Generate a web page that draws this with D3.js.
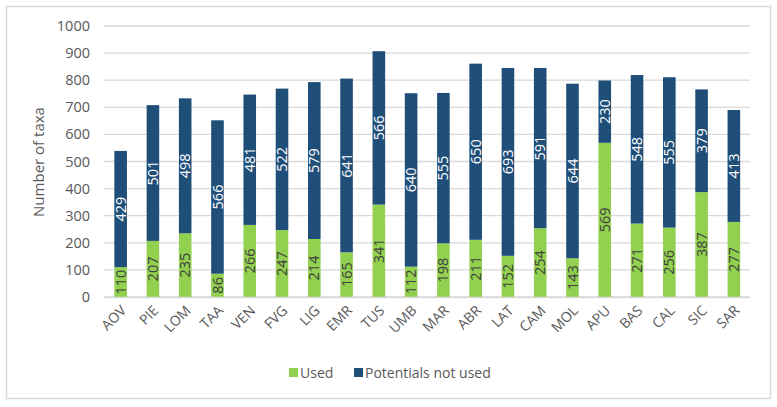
<!DOCTYPE html>
<html><head><meta charset="utf-8">
<script src="https://cdn.jsdelivr.net/npm/d3@7"></script>
<style>body{margin:0;background:#fff}svg{display:block}text{font-family:"Open Sans","Liberation Sans",sans-serif}</style>
</head><body>
<script>
const categories = ["AOV","PIE","LOM","TAA","VEN","FVG","LIG","EMR","TUS","UMB","MAR","ABR","LAT","CAM","MOL","APU","BAS","CAL","SIC","SAR"];
const used = [110,207,235,86,266,247,214,165,341,112,198,211,152,254,143,569,271,256,387,277];
const notUsed = [429,501,498,566,481,522,579,641,566,640,555,650,693,591,644,230,548,555,379,413];
const yTicks = [0,100,200,300,400,500,600,700,800,900,1000];
const seriesNames = ["Used","Potentials not used"];
const colors = ["#92D050","#1F4E79"];

const W = 777, H = 407;
const svg = d3.select("body").append("svg").attr("width", W).attr("height", H);
svg.append("rect").attr("x",6.5).attr("y",6.5).attr("width",764).attr("height",392)
  .attr("fill","#fff").attr("stroke","#d9d9d9").attr("stroke-width",1.5);

const x = d3.scaleBand().domain(categories).range([104.5, 750]).paddingInner(0.61).paddingOuter(0.305);
const y = d3.scaleLinear().domain([0,1000]).range([297, 26]);

// gridlines
svg.append("g").selectAll("line").data(yTicks).join("line")
  .attr("x1",104).attr("x2",750).attr("y1",d=>y(d)).attr("y2",d=>y(d))
  .attr("stroke","#d9d9d9").attr("stroke-width",1.3);

// y axis labels
svg.append("g").selectAll("text").data(yTicks).join("text")
  .attr("x",90).attr("y",d=>y(d)).attr("dy","0.35em").attr("text-anchor","end")
  .attr("font-size",14.5).attr("fill","#595959").text(d=>d);

svg.append("text").attr("transform","translate(44,162) rotate(-90)").attr("text-anchor","middle")
  .attr("font-size",15).attr("fill","#595959").text("Number of taxa");

const data = categories.map((c,i)=>({c, u:used[i], n:notUsed[i]}));
const g = svg.append("g");
g.selectAll("rect.u").data(data).join("rect").attr("class","u")
  .attr("x",d=>x(d.c)).attr("width",x.bandwidth())
  .attr("y",d=>y(d.u)).attr("height",d=>y(0)-y(d.u)).attr("fill",colors[0]);
g.selectAll("rect.n").data(data).join("rect").attr("class","n")
  .attr("x",d=>x(d.c)).attr("width",x.bandwidth())
  .attr("y",d=>y(d.u+d.n)).attr("height",d=>y(d.u)-y(d.u+d.n)).attr("fill",colors[1]);

g.selectAll("text.u").data(data).join("text").attr("class","u")
  .attr("transform",d=>`translate(${x(d.c)+x.bandwidth()/2},${(y(0)+y(d.u))/2}) rotate(-90)`)
  .attr("text-anchor","middle").attr("dy","0.35em").attr("font-size",14.5).attr("fill","#404040").text(d=>d.u);
g.selectAll("text.n").data(data).join("text").attr("class","n")
  .attr("transform",d=>`translate(${x(d.c)+x.bandwidth()/2},${(y(d.u)+y(d.u+d.n))/2}) rotate(-90)`)
  .attr("text-anchor","middle").attr("dy","0.35em").attr("font-size",14.5).attr("fill","#ffffff").text(d=>d.n);

svg.append("line").attr("x1",104).attr("x2",750).attr("y1",297.5).attr("y2",297.5).attr("stroke","#d9d9d9").attr("stroke-width",1.3);

svg.append("g").selectAll("text").data(categories).join("text")
  .attr("transform",d=>`translate(${x(d)+x.bandwidth()/2+3},${308}) rotate(-45)`)
  .attr("text-anchor","end").attr("dy","0.35em").attr("font-size",14).attr("fill","#595959").text(d=>d);

const leg = svg.append("g");
const legX = [289, 354];
seriesNames.forEach((s,i)=>{
  leg.append("rect").attr("x",legX[i]).attr("y",368).attr("width",9).attr("height",9).attr("fill",colors[i]);
  leg.append("text").attr("x",legX[i]+11).attr("y",373).attr("dy","0.35em").attr("font-size",14).attr("fill","#595959").text(s);
});
</script>
</body></html>
